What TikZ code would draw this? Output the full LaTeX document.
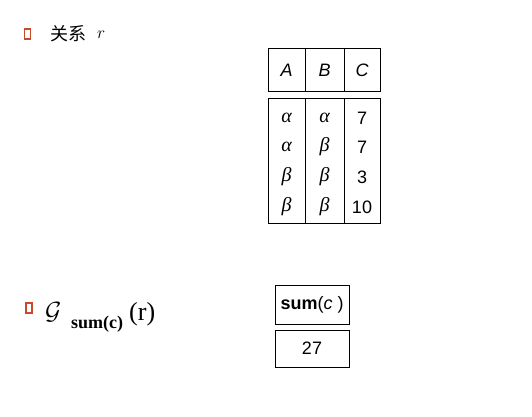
\documentclass[tikz,border=0pt]{standalone}
\usepackage{fontspec}
\setmainfont{Liberation Serif}
\setsansfont{Liberation Sans}
\newfontfamily\cjk{Noto Sans CJK SC}
\definecolor{bulletred}{HTML}{C94A2A}
\tikzset{
  bulletbox/.style={draw=bulletred, line width=1.3pt, minimum width=6pt, minimum height=10pt, inner sep=0pt},
  tbl/.style={draw=black, line width=0.9pt},
  cell/.style={font=\sffamily\fontsize{18}{20}\selectfont, inner sep=0pt},
  gcell/.style={font=\rmfamily\itshape\fontsize{20}{22}\selectfont, inner sep=0pt},
}
\begin{document}
\begin{tikzpicture}[x=1pt,y=-1pt]
\useasboundingbox (0,0) rectangle (532,416);
% bullets
\node[bulletbox] (b1) at (27.5,34) {};
\node[bulletbox] (b2) at (29,308) {};
% first line
\node[anchor=west, inner sep=0pt, font=\cjk\fontsize{18}{20}\selectfont] (t1) at (50,34) {关系};
\node[anchor=west, inner sep=0pt, font=\fontsize{19}{21}\selectfont] (r1) at (97,35) {$r$};
% second line
\node[anchor=base west, inner sep=0pt, font=\fontsize{30}{32}\selectfont] (G) at (45,319) {$\mathcal{G}$};
\node[anchor=base west, inner sep=0pt, font=\bfseries\fontsize{18}{20}\selectfont] (sub) at (71,328) {sum(c)};
\node[anchor=base west, inner sep=0pt, font=\fontsize{26}{28}\selectfont] (pr) at (129,320) {(r)};
% header table
\coordinate (h1) at (268,48);
\coordinate (h2) at (380,91);
\draw[tbl] (h1) rectangle (h2);
\draw[tbl] (305,48) -- (305,91);
\draw[tbl] (344,48) -- (344,91);
\node[cell] (hA) at (286.5,70) {\itshape A};
\node[cell] (hB) at (324.5,70) {\itshape B};
\node[cell] (hC) at (362,70) {\itshape C};
% body table
\coordinate (d1) at (268,98);
\coordinate (d2) at (380,223);
\draw[tbl] (d1) rectangle (d2);
\draw[tbl] (305,98) -- (305,223);
\draw[tbl] (344,98) -- (344,223);
\node[gcell] (a1) at (286.5,118) {α};
\node[gcell] (a2) at (286.5,147) {α};
\node[gcell] (a3) at (286.5,177) {β};
\node[gcell] (a4) at (286.5,207) {β};
\node[gcell] (b1c) at (324.5,118) {α};
\node[gcell] (b2c) at (324.5,147) {β};
\node[gcell] (b3c) at (324.5,177) {β};
\node[gcell] (b4c) at (324.5,207) {β};
\node[cell] (c1) at (362,118) {7};
\node[cell] (c2) at (362,147) {7};
\node[cell] (c3) at (362,177) {3};
\node[cell] (c4) at (362,207) {10};
% result table
\draw[tbl] (275,285) rectangle (349,324);
\draw[tbl] (275,330) rectangle (349,367);
\node[cell] (s1) at (312,304.5) {\textbf{sum}(\textit{c} )};
\node[cell] (s2) at (312,348.5) {27};
\end{tikzpicture}
\end{document}
